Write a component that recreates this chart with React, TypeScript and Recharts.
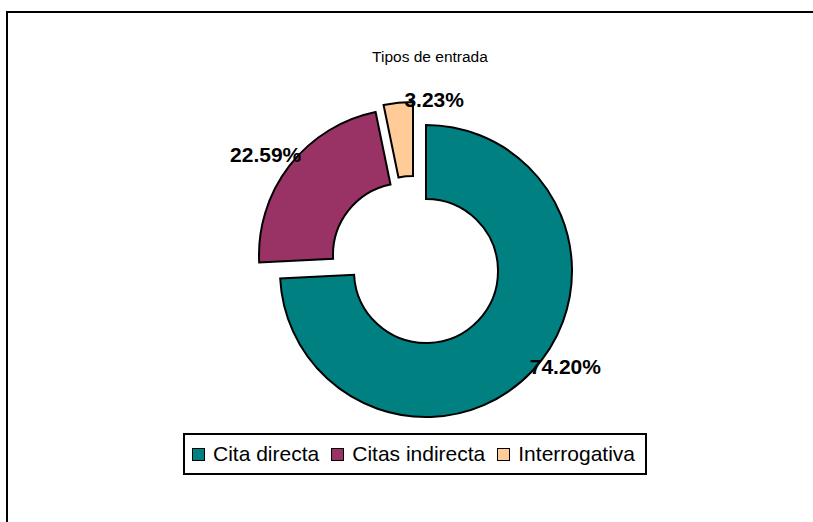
import { Cell, Legend, Pie, PieChart } from 'recharts'

const CATEGORIES = ['Cita directa', 'Citas indirecta', 'Interrogativa']
const SHARES = [74.2, 22.59, 3.23]
const COLORS = ['#008080', '#993366', '#FFCC99']

// layout (pixels)
const W = 813
const H = 522
const CX = 426
const CY = 271
const OUTER = 146
const INNER = 72
// exploded slices are pushed out from the centre
const EXPLODE = [
  [0, 0],
  [-21, -16],
  [-13, -23],
]
const LABEL_NUDGE = [
  [19, -19],
  [-8, 1],
  [38, 17],
]
const FONT = '"Liberation Sans", Arial, sans-serif'

const data = CATEGORIES.map((name, i) => ({ name, value: SHARES[i] }))

const RAD = Math.PI / 180

function makeLabel(target: number) {
  return (props: any) => {
    const { cx, cy, midAngle, outerRadius, index, value } = props
    if (index !== target) return null
    const r = outerRadius + 20
    const x = cx + r * Math.cos(-midAngle * RAD) + LABEL_NUDGE[index][0]
    const y = cy + r * Math.sin(-midAngle * RAD) + LABEL_NUDGE[index][1]
    return (
      <text
        x={x}
        y={y}
        textAnchor="middle"
        dominantBaseline="central"
        fontFamily={FONT}
        fontWeight="bold"
        fontSize={21}
        fill="#000"
      >
        {`${Number(value).toFixed(2)}%`}
      </text>
    )
  }
}

function LegendBox({ payload }: any) {
  // every exploded pie adds its own copy of the names, keep one of each
  const names: string[] = []
  for (const p of payload || []) {
    if (!names.includes(p.value)) names.push(p.value)
  }
  return (
    <div
      style={{
        display: 'flex',
        alignItems: 'center',
        height: 38,
        border: '2px solid #000',
        padding: '0 10px 0 7px',
        background: '#fff',
        fontFamily: FONT,
        fontSize: 21,
        color: '#000',
        whiteSpace: 'nowrap',
        boxSizing: 'content-box',
      }}
    >
      {names.map((name, i) => (
        <div key={name} style={{ display: 'flex', alignItems: 'center', marginRight: i < names.length - 1 ? 12 : 0 }}>
          <span
            style={{
              display: 'inline-block',
              width: 11,
              height: 11,
              border: '1px solid #000',
              background: COLORS[CATEGORIES.indexOf(name)],
              marginRight: 8,
            }}
          />
          <span>{name}</span>
        </div>
      ))}
    </div>
  )
}

export default function App() {
  return (
    <div style={{ position: 'absolute', left: 0, top: 0, width: W, height: H, overflow: 'hidden', background: '#fff' }}>
      <div
        style={{
          position: 'absolute',
          left: 6,
          top: 11,
          width: W + 20,
          height: H + 20,
          border: '2px solid #000',
        }}
      />
      <div
        style={{
          position: 'absolute',
          left: 0,
          width: 860,
          top: 47,
          textAlign: 'center',
          fontFamily: FONT,
          fontSize: 15.5,
          lineHeight: '20px',
          color: '#000',
        }}
      >
        Tipos de entrada
      </div>
      <div style={{ position: 'absolute', left: 0, top: 0 }}>
        <PieChart width={W} height={H} margin={{ top: 0, right: 0, bottom: 0, left: 0 }}>
          {[0, 1, 2].map((target) => (
            <Pie
              key={target}
              data={data}
              dataKey="value"
              nameKey="name"
              cx={CX + EXPLODE[target][0]}
              cy={CY + EXPLODE[target][1]}
              startAngle={90}
              endAngle={-270}
              innerRadius={INNER}
              outerRadius={OUTER}
              isAnimationActive={false}
              labelLine={false}
              label={makeLabel(target)}
              legendType={target === 0 ? 'square' : 'none'}
            >
              {data.map((d, i) => (
                <Cell
                  key={d.name}
                  fill={i === target ? COLORS[i] : 'none'}
                  stroke={i === target ? '#000' : 'none'}
                  strokeWidth={2}
                />
              ))}
            </Pie>
          ))}
          <Legend
            content={<LegendBox />}
            wrapperStyle={{ left: 183, top: 433, width: 'auto', bottom: 'auto' }}
          />
        </PieChart>
      </div>
    </div>
  )
}
